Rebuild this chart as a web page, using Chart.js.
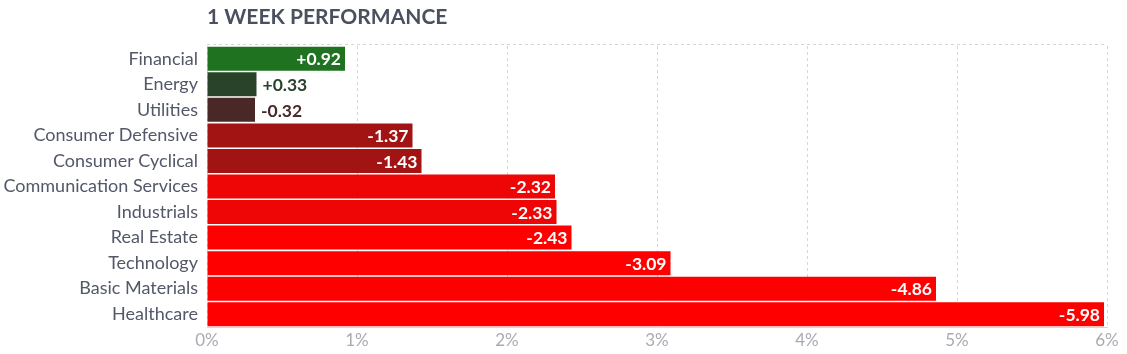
<!DOCTYPE html>
<html>
<head>
<meta charset="utf-8">
<script src="https://cdn.jsdelivr.net/npm/chart.js@4.4.1/dist/chart.umd.min.js"></script>
<style>
  html, body { margin: 0; padding: 0; background: #fff; }
  #wrap { width: 1127px; height: 354px; position: relative; }
</style>
</head>
<body>
<div id="wrap"><canvas id="perfChart"></canvas></div>
<script>
const sectors = ['Financial', 'Energy', 'Utilities', 'Consumer Defensive', 'Consumer Cyclical',
    'Communication Services', 'Industrials', 'Real Estate', 'Technology', 'Basic Materials', 'Healthcare'];
const changes = [0.92, 0.33, -0.32, -1.37, -1.43, -2.32, -2.33, -2.43, -3.09, -4.86, -5.98];
const xTicks = [0, 1, 2, 3, 4, 5, 6];
const chartTitle = '1 WEEK PERFORMANCE';

// cor da barra conforme a variação
function barColor(v) {
    if (v >= 0.5) return '#1f721f';
    if (v >= 0) return '#29432b';
    if (v >= -0.5) return '#4b2828';
    if (v >= -2) return '#a21414';
    if (v > -2.4) return '#ee0505';
    return '#ff0000';
}

const fontFamily = 'Lato, "Open Sans", sans-serif';

// título + linha tracejada superior
const titlePlugin = {
    id: 'titlePlugin',
    afterDraw(chart) {
        const { ctx, chartArea } = chart;
        ctx.save();
        ctx.font = 'bold 21px ' + fontFamily;
        ctx.fillStyle = '#4a505e';
        ctx.textBaseline = 'alphabetic';
        ctx.textAlign = 'left';
        ctx.fillText(chartTitle, chartArea.left, 24);
        ctx.restore();
    },
    beforeDatasetsDraw(chart) {
        const { ctx, chartArea } = chart;
        ctx.save();
        ctx.strokeStyle = '#d6d6d6';
        ctx.lineWidth = 1;
        ctx.setLineDash([3, 3]);
        ctx.beginPath();
        ctx.moveTo(chartArea.left, 44.5);
        ctx.lineTo(chartArea.right, 44.5);
        ctx.stroke();
        ctx.restore();
    }
};

// rótulos de valor nas barras
const valueLabels = {
    id: 'valueLabels',
    afterDatasetsDraw(chart) {
        const { ctx } = chart;
        const meta = chart.getDatasetMeta(0);
        ctx.save();
        ctx.font = 'bold 17.5px ' + fontFamily;
        ctx.textBaseline = 'middle';
        meta.data.forEach((bar, i) => {
            const v = changes[i];
            const txt = (v > 0 ? '+' : '') + v.toFixed(2);
            const w = bar.x - bar.base;
            if (w > 80) {
                ctx.fillStyle = '#ffffff';
                ctx.textAlign = 'right';
                ctx.fillText(txt, bar.x - 4, bar.y + 1);
            } else {
                ctx.fillStyle = barColor(v);
                ctx.textAlign = 'left';
                ctx.fillText(txt, bar.x + 6, bar.y + 1);
            }
        });
        ctx.restore();
    }
};

const ctx = document.getElementById('perfChart').getContext('2d');
const perfChart = new Chart(ctx, {
    type: 'bar',
    data: {
        labels: sectors,
        datasets: [{
            data: changes.map(v => Math.abs(v)),
            backgroundColor: changes.map(barColor),
            borderWidth: 0,
            barPercentage: 0.94,
            categoryPercentage: 1
        }]
    },
    options: {
        indexAxis: 'y',
        responsive: true,
        maintainAspectRatio: false,
        animation: false,
        layout: { padding: { top: 46, right: 20, left: 0, bottom: 0 } },
        plugins: {
            legend: { display: false },
            tooltip: { enabled: false },
            title: { display: false }
        },
        scales: {
            x: {
                min: 0,
                max: 6,
                afterBuildTicks(axis) {
                    axis.ticks = xTicks.map(v => ({ value: v }));
                },
                afterFit(axis) { axis.height = 27; },
                ticks: {
                    color: '#a9abb2',
                    font: { family: fontFamily, size: 17 },
                    padding: 3,
                    callback: v => v + '%'
                },
                grid: {
                    color: '#d6d6d6',
                    drawTicks: false
                },
                border: { display: true, color: '#d6d6d6', dash: [3, 3] }
            },
            y: {
                afterFit(axis) { axis.width = 207; },
                ticks: {
                    color: '#525868',
                    font: { family: fontFamily, size: 18 },
                    padding: 9
                },
                grid: { display: false, drawTicks: false },
                border: { display: false }
            }
        }
    },
    plugins: [titlePlugin, valueLabels]
});
// linhas de grade tracejadas
perfChart.options.scales.x.grid.dash = [3, 3];
perfChart.update();
</script>
</body>
</html>
